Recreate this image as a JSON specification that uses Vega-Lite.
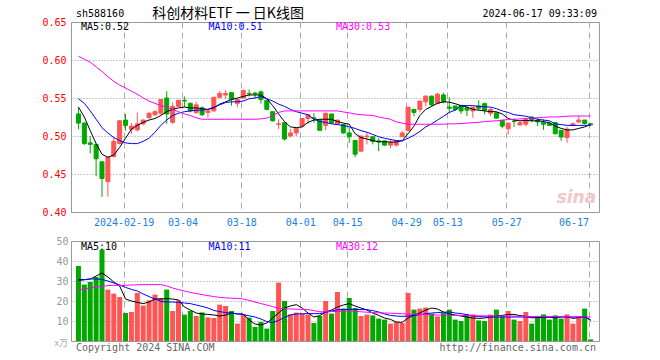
{
"$schema": "https://vega.github.io/schema/vega-lite/v6.json",
"background": "#ffffff",
"padding": {"left": 41, "top": 6, "right": 0, "bottom": 0},
"bounds": "flush",
"spacing": 29,
"config": {
  "view": {"stroke": "#999999", "strokeWidth": 1},
  "axis": {"labelFont": "DejaVu Sans Mono", "labelFontSize": 10, "ticks": false, "domain": false, "title": null, "labelOverlap": false}
},
"resolve": {"scale": {"y": "independent", "color": "independent"}},
"datasets": {"k": [
{"i":0,"d":"2024-01-30","o":0.529,"h":0.538,"l":0.509,"c":0.517,"v":37.5,"m5":0.538,"m10":0.549,"m30":0.605,"vm5":30.7,"vm10":30.2,"vm30":25.7},
{"i":1,"d":"2024-01-31","o":0.517,"h":0.518,"l":0.488,"c":0.490,"v":28.2,"m5":0.525,"m10":0.543,"m30":0.601,"vm5":30.7,"vm10":30.6,"vm30":26},
{"i":2,"d":"2024-02-01","o":0.491,"h":0.500,"l":0.477,"c":0.489,"v":29.5,"m5":0.507,"m10":0.533,"m30":0.597,"vm5":31,"vm10":31,"vm30":26.5},
{"i":3,"d":"2024-02-02","o":0.489,"h":0.490,"l":0.447,"c":0.470,"v":32,"m5":0.490,"m10":0.522,"m30":0.591,"vm5":32.5,"vm10":31,"vm30":27},
{"i":4,"d":"2024-02-05","o":0.466,"h":0.467,"l":0.420,"c":0.444,"v":45.7,"m5":0.476,"m10":0.511,"m30":0.585,"vm5":34,"vm10":30.8,"vm30":27.3},
{"i":5,"d":"2024-02-06","o":0.440,"h":0.472,"l":0.420,"c":0.472,"v":25.7,"m5":0.472,"m10":0.504,"m30":0.578,"vm5":32,"vm10":30,"vm30":27.7},
{"i":6,"d":"2024-02-07","o":0.473,"h":0.498,"l":0.472,"c":0.493,"v":23.7,"m5":0.475,"m10":0.498,"m30":0.572,"vm5":29.5,"vm10":29,"vm30":27.8},
{"i":7,"d":"2024-02-08","o":0.490,"h":0.521,"l":0.489,"c":0.520,"v":22,"m5":0.485,"m10":0.494,"m30":0.567,"vm5":27.5,"vm10":28,"vm30":27.8},
{"i":8,"d":"2024-02-19","o":0.521,"h":0.529,"l":0.507,"c":0.514,"v":14,"m5":0.497,"m10":0.491,"m30":0.563,"vm5":21,"vm10":26.8,"vm30":27.8},
{"i":9,"d":"2024-02-20","o":0.509,"h":0.517,"l":0.503,"c":0.513,"v":14.5,"m5":0.509,"m10":0.490,"m30":0.559,"vm5":20,"vm10":25.8,"vm30":28},
{"i":10,"d":"2024-02-21","o":0.508,"h":0.531,"l":0.506,"c":0.516,"v":24,"m5":0.514,"m10":0.490,"m30":0.555,"vm5":19.3,"vm10":25,"vm30":28.1},
{"i":11,"d":"2024-02-22","o":0.516,"h":0.522,"l":0.514,"c":0.521,"v":17.7,"m5":0.518,"m10":0.493,"m30":0.550,"vm5":18.7,"vm10":23.5,"vm30":28.2},
{"i":12,"d":"2024-02-23","o":0.524,"h":0.531,"l":0.523,"c":0.530,"v":20.3,"m5":0.521,"m10":0.497,"m30":0.546,"vm5":19.5,"vm10":22.2,"vm30":28.2},
{"i":13,"d":"2024-02-26","o":0.528,"h":0.534,"l":0.526,"c":0.532,"v":23.2,"m5":0.523,"m10":0.505,"m30":0.543,"vm5":21,"vm10":21,"vm30":28.2},
{"i":14,"d":"2024-02-27","o":0.530,"h":0.548,"l":0.528,"c":0.548,"v":21.5,"m5":0.527,"m10":0.514,"m30":0.540,"vm5":21,"vm10":19.8,"vm30":28.2},
{"i":15,"d":"2024-02-28","o":0.550,"h":0.559,"l":0.516,"c":0.529,"v":25.7,"m5":0.532,"m10":0.521,"m30":0.538,"vm5":21.2,"vm10":19.5,"vm30":27.5},
{"i":16,"d":"2024-02-29","o":0.518,"h":0.544,"l":0.516,"c":0.539,"v":15,"m5":0.535,"m10":0.527,"m30":0.535,"vm5":21,"vm10":19.5,"vm30":26.5},
{"i":17,"d":"2024-03-01","o":0.539,"h":0.548,"l":0.539,"c":0.547,"v":20.3,"m5":0.537,"m10":0.530,"m30":0.532,"vm5":20.5,"vm10":19.3,"vm30":25.7},
{"i":18,"d":"2024-03-04","o":0.547,"h":0.552,"l":0.538,"c":0.546,"v":13.2,"m5":0.538,"m10":0.532,"m30":0.529,"vm5":17,"vm10":19,"vm30":25},
{"i":19,"d":"2024-03-05","o":0.543,"h":0.544,"l":0.531,"c":0.533,"v":15,"m5":0.537,"m10":0.533,"m30":0.527,"vm5":15.5,"vm10":18.7,"vm30":24.3},
{"i":20,"d":"2024-03-06","o":0.531,"h":0.545,"l":0.529,"c":0.541,"v":12.5,"m5":0.537,"m10":0.534,"m30":0.524,"vm5":14,"vm10":18,"vm30":23.7},
{"i":21,"d":"2024-03-07","o":0.537,"h":0.539,"l":0.526,"c":0.528,"v":14.3,"m5":0.536,"m10":0.534,"m30":0.522,"vm5":13.5,"vm10":17.3,"vm30":23.2},
{"i":22,"d":"2024-03-08","o":0.531,"h":0.535,"l":0.524,"c":0.533,"v":11.8,"m5":0.535,"m10":0.535,"m30":0.522,"vm5":13.3,"vm10":16.5,"vm30":22.7},
{"i":23,"d":"2024-03-11","o":0.533,"h":0.551,"l":0.532,"c":0.551,"v":11.5,"m5":0.537,"m10":0.538,"m30":0.522,"vm5":13,"vm10":15.3,"vm30":22.2},
{"i":24,"d":"2024-03-12","o":0.551,"h":0.559,"l":0.549,"c":0.556,"v":18.2,"m5":0.542,"m10":0.541,"m30":0.522,"vm5":12.5,"vm10":14.7,"vm30":21.8},
{"i":25,"d":"2024-03-13","o":0.554,"h":0.560,"l":0.549,"c":0.556,"v":17.5,"m5":0.545,"m10":0.544,"m30":0.522,"vm5":13,"vm10":14.2,"vm30":21.6},
{"i":26,"d":"2024-03-14","o":0.557,"h":0.557,"l":0.540,"c":0.548,"v":15,"m5":0.548,"m10":0.545,"m30":0.522,"vm5":14,"vm10":14,"vm30":21.4},
{"i":27,"d":"2024-03-15","o":0.543,"h":0.550,"l":0.538,"c":0.548,"v":8.7,"m5":0.550,"m10":0.545,"m30":0.522,"vm5":13.5,"vm10":13.6,"vm30":21.3},
{"i":28,"d":"2024-03-18","o":0.550,"h":0.561,"l":0.550,"c":0.560,"v":13.3,"m5":0.552,"m10":0.546,"m30":0.522,"vm5":13.5,"vm10":13.2,"vm30":21},
{"i":29,"d":"2024-03-19","o":0.556,"h":0.561,"l":0.552,"c":0.5555,"v":11.7,"m5":0.554,"m10":0.549,"m30":0.522,"vm5":10.5,"vm10":12.6,"vm30":20.3},
{"i":30,"d":"2024-03-20","o":0.5565,"h":0.558,"l":0.550,"c":0.5555,"v":7,"m5":0.554,"m10":0.550,"m30":0.522,"vm5":8.5,"vm10":12,"vm30":19.5},
{"i":31,"d":"2024-03-21","o":0.558,"h":0.560,"l":0.5425,"c":0.548,"v":9.5,"m5":0.554,"m10":0.552,"m30":0.5225,"vm5":8,"vm10":11,"vm30":18.7},
{"i":32,"d":"2024-03-22","o":0.547,"h":0.547,"l":0.534,"c":0.535,"v":6.2,"m5":0.549,"m10":0.549,"m30":0.5235,"vm5":9,"vm10":9.7,"vm30":18},
{"i":33,"d":"2024-03-25","o":0.532,"h":0.532,"l":0.519,"c":0.520,"v":15,"m5":0.540,"m10":0.546,"m30":0.527,"vm5":11.5,"vm10":9.2,"vm30":17.2},
{"i":34,"d":"2024-03-26","o":0.5155,"h":0.522,"l":0.509,"c":0.516,"v":29.2,"m5":0.529,"m10":0.542,"m30":0.531,"vm5":14,"vm10":10.3,"vm30":16.3},
{"i":35,"d":"2024-03-27","o":0.5175,"h":0.5175,"l":0.494,"c":0.496,"v":20,"m5":0.519,"m10":0.539,"m30":0.533,"vm5":16.5,"vm10":11.8,"vm30":16.1},
{"i":36,"d":"2024-03-28","o":0.500,"h":0.509,"l":0.498,"c":0.504,"v":13.3,"m5":0.512,"m10":0.535,"m30":0.533,"vm5":17.5,"vm10":13,"vm30":16},
{"i":37,"d":"2024-03-29","o":0.504,"h":0.510,"l":0.500,"c":0.510,"v":14.2,"m5":0.511,"m10":0.532,"m30":0.533,"vm5":18.2,"vm10":13.5,"vm30":15.9},
{"i":38,"d":"2024-04-01","o":0.513,"h":0.523,"l":0.511,"c":0.523,"v":13.7,"m5":0.512,"m10":0.530,"m30":0.533,"vm5":16.5,"vm10":13.6,"vm30":15.8},
{"i":39,"d":"2024-04-02","o":0.523,"h":0.528,"l":0.516,"c":0.528,"v":13.2,"m5":0.518,"m10":0.528,"m30":0.533,"vm5":14,"vm10":13.7,"vm30":15.7},
{"i":40,"d":"2024-04-03","o":0.524,"h":0.530,"l":0.5175,"c":0.523,"v":9,"m5":0.521,"m10":0.522,"m30":0.533,"vm5":12,"vm10":13.7,"vm30":15.2},
{"i":41,"d":"2024-04-08","o":0.521,"h":0.521,"l":0.507,"c":0.5075,"v":12.5,"m5":0.522,"m10":0.519,"m30":0.533,"vm5":12.7,"vm10":13.7,"vm30":14.6},
{"i":42,"d":"2024-04-09","o":0.514,"h":0.530,"l":0.5075,"c":0.530,"v":20,"m5":0.522,"m10":0.518,"m30":0.533,"vm5":14.5,"vm10":14.3,"vm30":14.6},
{"i":43,"d":"2024-04-10","o":0.529,"h":0.529,"l":0.517,"c":0.517,"v":13.7,"m5":0.522,"m10":0.516,"m30":0.533,"vm5":15.5,"vm10":15,"vm30":14.7},
{"i":44,"d":"2024-04-11","o":0.516,"h":0.521,"l":0.515,"c":0.521,"v":24.5,"m5":0.519,"m10":0.515,"m30":0.533,"vm5":17,"vm10":15.6,"vm30":14.8},
{"i":45,"d":"2024-04-12","o":0.515,"h":0.515,"l":0.503,"c":0.504,"v":16.2,"m5":0.517,"m10":0.514,"m30":0.5316,"vm5":18,"vm10":15.8,"vm30":14.9},
{"i":46,"d":"2024-04-15","o":0.504,"h":0.511,"l":0.491,"c":0.499,"v":21.5,"m5":0.5155,"m10":0.512,"m30":0.5305,"vm5":18.7,"vm10":15.8,"vm30":15},
{"i":47,"d":"2024-04-16","o":0.494,"h":0.494,"l":0.472,"c":0.476,"v":16.5,"m5":0.503,"m10":0.510,"m30":0.529,"vm5":17.5,"vm10":15.8,"vm30":14.8},
{"i":48,"d":"2024-04-17","o":0.480,"h":0.500,"l":0.480,"c":0.500,"v":12.5,"m5":0.498,"m10":0.507,"m30":0.528,"vm5":16.5,"vm10":15.7,"vm30":14.6},
{"i":49,"d":"2024-04-18","o":0.499,"h":0.505,"l":0.489,"c":0.500,"v":13.2,"m5":0.496,"m10":0.505,"m30":0.5275,"vm5":15.5,"vm10":15.7,"vm30":14.4},
{"i":50,"d":"2024-04-19","o":0.499,"h":0.499,"l":0.489,"c":0.493,"v":12.8,"m5":0.494,"m10":0.502,"m30":0.527,"vm5":14,"vm10":15.2,"vm30":14.2},
{"i":51,"d":"2024-04-22","o":0.4935,"h":0.497,"l":0.480,"c":0.492,"v":11.2,"m5":0.4925,"m10":0.499,"m30":0.525,"vm5":12.8,"vm10":14.5,"vm30":14.1},
{"i":52,"d":"2024-04-23","o":0.4935,"h":0.494,"l":0.487,"c":0.488,"v":10.7,"m5":0.4925,"m10":0.497,"m30":0.5235,"vm5":11.5,"vm10":13.5,"vm30":14},
{"i":53,"d":"2024-04-24","o":0.488,"h":0.496,"l":0.484,"c":0.492,"v":8.7,"m5":0.492,"m10":0.4955,"m30":0.522,"vm5":10.8,"vm10":12.8,"vm30":13.9},
{"i":54,"d":"2024-04-25","o":0.488,"h":0.494,"l":0.486,"c":0.494,"v":9.5,"m5":0.492,"m10":0.494,"m30":0.5185,"vm5":9.5,"vm10":12.5,"vm30":13.8},
{"i":55,"d":"2024-04-26","o":0.499,"h":0.507,"l":0.499,"c":0.504,"v":9,"m5":0.494,"m10":0.4935,"m30":0.517,"vm5":9.3,"vm10":12.3,"vm30":13.6},
{"i":56,"d":"2024-04-29","o":0.507,"h":0.538,"l":0.507,"c":0.538,"v":24,"m5":0.503,"m10":0.497,"m30":0.5155,"vm5":11.5,"vm10":12.5,"vm30":13.5},
{"i":57,"d":"2024-04-30","o":0.535,"h":0.535,"l":0.526,"c":0.531,"v":15.7,"m5":0.513,"m10":0.501,"m30":0.5155,"vm5":13,"vm10":12.7,"vm30":13.4},
{"i":58,"d":"2024-05-06","o":0.535,"h":0.546,"l":0.531,"c":0.546,"v":16.2,"m5":0.527,"m10":0.506,"m30":0.5155,"vm5":14,"vm10":13.2,"vm30":13.3},
{"i":59,"d":"2024-05-07","o":0.545,"h":0.553,"l":0.539,"c":0.5525,"v":16.7,"m5":0.535,"m10":0.512,"m30":0.5155,"vm5":15.5,"vm10":13.6,"vm30":13.2},
{"i":60,"d":"2024-05-08","o":0.5525,"h":0.553,"l":0.539,"c":0.541,"v":13.7,"m5":0.539,"m10":0.516,"m30":0.5155,"vm5":16.5,"vm10":14,"vm30":13.1},
{"i":61,"d":"2024-05-09","o":0.543,"h":0.557,"l":0.542,"c":0.555,"v":12.3,"m5":0.543,"m10":0.521,"m30":0.5155,"vm5":16,"vm10":14.2,"vm30":13},
{"i":62,"d":"2024-05-10","o":0.554,"h":0.557,"l":0.543,"c":0.545,"v":14,"m5":0.545,"m10":0.526,"m30":0.5155,"vm5":14.5,"vm10":14.4,"vm30":12.9},
{"i":63,"d":"2024-05-13","o":0.538,"h":0.551,"l":0.530,"c":0.5365,"v":15.7,"m5":0.5445,"m10":0.531,"m30":0.516,"vm5":13.5,"vm10":14.5,"vm30":12.9},
{"i":64,"d":"2024-05-14","o":0.5395,"h":0.540,"l":0.533,"c":0.535,"v":10.7,"m5":0.5425,"m10":0.534,"m30":0.516,"vm5":13,"vm10":14,"vm30":12.8},
{"i":65,"d":"2024-05-15","o":0.540,"h":0.541,"l":0.529,"c":0.533,"v":10,"m5":0.540,"m10":0.540,"m30":0.5165,"vm5":12.5,"vm10":13.7,"vm30":12.8},
{"i":66,"d":"2024-05-16","o":0.537,"h":0.539,"l":0.526,"c":0.534,"v":13.3,"m5":0.538,"m10":0.540,"m30":0.517,"vm5":12,"vm10":13.2,"vm30":12.7},
{"i":67,"d":"2024-05-17","o":0.533,"h":0.538,"l":0.524,"c":0.538,"v":13.3,"m5":0.535,"m10":0.540,"m30":0.5175,"vm5":11.5,"vm10":12.5,"vm30":12.7},
{"i":68,"d":"2024-05-20","o":0.5395,"h":0.547,"l":0.534,"c":0.5365,"v":10.3,"m5":0.534,"m10":0.539,"m30":0.518,"vm5":11.3,"vm10":12.2,"vm30":12.6},
{"i":69,"d":"2024-05-21","o":0.5425,"h":0.544,"l":0.5285,"c":0.534,"v":10,"m5":0.533,"m10":0.5385,"m30":0.519,"vm5":11.5,"vm10":12.1,"vm30":12.6},
{"i":70,"d":"2024-05-22","o":0.530,"h":0.537,"l":0.526,"c":0.535,"v":13.2,"m5":0.532,"m10":0.538,"m30":0.5195,"vm5":12,"vm10":12,"vm30":12.5},
{"i":71,"d":"2024-05-23","o":0.5305,"h":0.531,"l":0.523,"c":0.5235,"v":15.7,"m5":0.532,"m10":0.536,"m30":0.520,"vm5":12.5,"vm10":12,"vm30":12.5},
{"i":72,"d":"2024-05-24","o":0.5205,"h":0.521,"l":0.510,"c":0.513,"v":12.5,"m5":0.529,"m10":0.533,"m30":0.521,"vm5":12.8,"vm10":12,"vm30":12.5},
{"i":73,"d":"2024-05-27","o":0.5095,"h":0.5175,"l":0.502,"c":0.517,"v":15,"m5":0.523,"m10":0.531,"m30":0.5215,"vm5":13.3,"vm10":12,"vm30":12.4},
{"i":74,"d":"2024-05-28","o":0.5195,"h":0.523,"l":0.512,"c":0.519,"v":10.7,"m5":0.521,"m10":0.528,"m30":0.522,"vm5":13.3,"vm10":12,"vm30":12.4},
{"i":75,"d":"2024-05-29","o":0.5145,"h":0.5195,"l":0.514,"c":0.5175,"v":10,"m5":0.520,"m10":0.527,"m30":0.5225,"vm5":12.7,"vm10":12,"vm30":12.3},
{"i":76,"d":"2024-05-30","o":0.5155,"h":0.524,"l":0.513,"c":0.522,"v":14.5,"m5":0.5205,"m10":0.526,"m30":0.523,"vm5":12.3,"vm10":12,"vm30":12.3},
{"i":77,"d":"2024-05-31","o":0.525,"h":0.526,"l":0.518,"c":0.521,"v":8.7,"m5":0.520,"m10":0.524,"m30":0.5235,"vm5":11.6,"vm10":12,"vm30":12.3},
{"i":78,"d":"2024-06-03","o":0.5205,"h":0.524,"l":0.513,"c":0.5185,"v":12.3,"m5":0.520,"m10":0.522,"m30":0.524,"vm5":11.7,"vm10":12,"vm30":12.3},
{"i":79,"d":"2024-06-04","o":0.5175,"h":0.522,"l":0.508,"c":0.5155,"v":13.3,"m5":0.519,"m10":0.521,"m30":0.5245,"vm5":11.8,"vm10":12,"vm30":12.2},
{"i":80,"d":"2024-06-05","o":0.5165,"h":0.519,"l":0.5135,"c":0.514,"v":10.7,"m5":0.5175,"m10":0.520,"m30":0.525,"vm5":11.9,"vm10":12,"vm30":12.2},
{"i":81,"d":"2024-06-06","o":0.5175,"h":0.518,"l":0.502,"c":0.503,"v":12.8,"m5":0.513,"m10":0.516,"m30":0.525,"vm5":11.6,"vm10":12,"vm30":12.2},
{"i":82,"d":"2024-06-07","o":0.5075,"h":0.5075,"l":0.4935,"c":0.4987,"v":11.2,"m5":0.510,"m10":0.515,"m30":0.5255,"vm5":12.1,"vm10":12,"vm30":12.2},
{"i":83,"d":"2024-06-11","o":0.498,"h":0.512,"l":0.491,"c":0.509,"v":13.3,"m5":0.508,"m10":0.514,"m30":0.526,"vm5":12.1,"vm10":12,"vm30":12.1},
{"i":84,"d":"2024-06-12","o":0.514,"h":0.518,"l":0.513,"c":0.516,"v":8.7,"m5":0.508,"m10":0.514,"m30":0.5263,"vm5":11.3,"vm10":12,"vm30":12.1},
{"i":85,"d":"2024-06-13","o":0.5185,"h":0.5265,"l":0.517,"c":0.521,"v":12.3,"m5":0.510,"m10":0.514,"m30":0.5263,"vm5":11.7,"vm10":12,"vm30":12.1},
{"i":86,"d":"2024-06-14","o":0.521,"h":0.521,"l":0.515,"c":0.5165,"v":16.2,"m5":0.512,"m10":0.514,"m30":0.5263,"vm5":12.3,"vm10":12,"vm30":12.1},
{"i":87,"d":"2024-06-17","o":0.516,"h":0.517,"l":0.514,"c":0.5145,"v":0.8,"m5":0.515,"m10":0.514,"m30":0.5263,"vm5":10.2,"vm10":10.7,"vm30":12}
]},
"vconcat": [
{
  "width": 528,
  "height": 190,
  "layer": [
    {
      "data": {"name": "k"},
      "mark": {"type": "rule", "strokeWidth": 1},
      "encoding": {
        "x": {"field": "i", "type": "quantitative", "title": null,
          "scale": {"domain": [-0.4167, 87.5833], "nice": false, "zero": false},
          "axis": {
            "values": [7.6667, 17.6667, 27.6667, 37.6667, 45.6667, 55.6667, 62.6667, 72.6667, 86.6667],
            "tickCount": 40,
            "labelExpr": "['2024-02-19','03-04','03-18','04-01','04-15','04-29','05-13','05-27','06-17'][indexof([8,18,28,38,46,56,63,73,87], round(datum.value))]",
            "labelAlign": {"condition": {"test": "datum.value > 80", "value": "right"}, "value": "center"},
            "labelColor": "#1a7fe0", "labelPadding": 5, "labelFlush": false, "labelOverlap": false,
            "grid": true, "gridColor": "#aaaaaa", "gridDash": [6, 4]
          }
        },
        "y": {"field": "l", "type": "quantitative", "title": null,
          "scale": {"domain": [0.4, 0.65], "nice": false, "zero": false},
          "axis": {"values": [0.4, 0.45, 0.5, 0.55, 0.6, 0.65], "tickCount": 20, "format": ".2f", "labelColor": "#ff0000",
            "labelPadding": 5, "labelOverlap": false, "grid": true, "gridColor": "#999999", "gridDash": [1, 2]}
        },
        "y2": {"field": "h"},
        "color": {"condition": {"test": "datum.c >= datum.o", "value": "#ff5555"}, "value": "#00a800"}
      }
    },
    {
      "data": {"name": "k"},
      "mark": {"type": "bar", "size": 4, "strokeWidth": 1},
      "encoding": {
        "x": {"field": "i", "type": "quantitative", "title": null},
        "y": {"field": "o", "type": "quantitative", "title": null},
        "y2": {"field": "c"},
        "fill": {"condition": {"test": "datum.c >= datum.o", "value": "#ff5555"}, "value": "#00a800"},
        "stroke": {"condition": {"test": "datum.c >= datum.o", "value": "#ff5555"}, "value": "#00a800"}
      }
    },
    {
      "data": {"name": "k"},
      "transform": [{"fold": ["m5", "m10", "m30"], "as": ["s", "val"]}],
      "mark": {"type": "line", "strokeWidth": 1},
      "encoding": {
        "x": {"field": "i", "type": "quantitative", "title": null},
        "y": {"field": "val", "type": "quantitative", "title": null},
        "color": {"field": "s", "type": "nominal", "scale": {"domain": ["m5", "m10", "m30"], "range": ["#000000", "#0000ff", "#ff00ff"]}, "legend": null}
      }
    },
    {
      "data": {"values": [{}]},
      "mark": {"type": "text", "align": "left", "baseline": "middle", "font": "DejaVu Sans Mono", "fontSize": 10, "color": "#000000"},
      "encoding": {"x": {"datum": 0.417, "type": "quantitative"}, "y": {"datum": 0.6434, "type": "quantitative"}, "text": {"value": "MA5:0.52"}}
    },
    {
      "data": {"values": [{}]},
      "mark": {"type": "text", "align": "left", "baseline": "middle", "font": "DejaVu Sans Mono", "fontSize": 10, "color": "#0000ff"},
      "encoding": {"x": {"datum": 22.08, "type": "quantitative"}, "y": {"datum": 0.6434, "type": "quantitative"}, "text": {"value": "MA10:0.51"}}
    },
    {
      "data": {"values": [{}]},
      "mark": {"type": "text", "align": "left", "baseline": "middle", "font": "DejaVu Sans Mono", "fontSize": 10, "color": "#ff00ff"},
      "encoding": {"x": {"datum": 43.75, "type": "quantitative"}, "y": {"datum": 0.6434, "type": "quantitative"}, "text": {"value": "MA30:0.53"}}
    },
    {
      "data": {"values": [{}]},
      "mark": {"type": "text", "align": "left", "baseline": "middle", "font": "DejaVu Sans Mono", "fontSize": 10, "color": "#000000"},
      "encoding": {"x": {"datum": -0.4167, "type": "quantitative"}, "y": {"datum": 0.6605, "type": "quantitative"}, "text": {"value": "sh588160"}}
    },
    {
      "data": {"values": [{}]},
      "mark": {"type": "text", "align": "center", "baseline": "middle", "font": "Noto Sans CJK SC", "fontSize": 14, "color": "#000000"},
      "encoding": {"x": {"datum": 25.42, "type": "quantitative"}, "y": {"datum": 0.6605, "type": "quantitative"}, "text": {"value": "科创材料ETF 一 日K线图"}}
    },
    {
      "data": {"values": [{}]},
      "mark": {"type": "text", "align": "right", "baseline": "middle", "font": "DejaVu Sans Mono", "fontSize": 10, "color": "#000000"},
      "encoding": {"x": {"datum": 88.08, "type": "quantitative"}, "y": {"datum": 0.6605, "type": "quantitative"}, "text": {"value": "2024-06-17 09:33:09"}}
    },
    {
      "data": {"values": [{}]},
      "mark": {"type": "text", "align": "center", "baseline": "middle", "font": "DejaVu Sans", "fontSize": 17, "fontWeight": "bold", "fontStyle": "italic", "color": "#f0c8c8"},
      "encoding": {"x": {"datum": 84.6, "type": "quantitative"}, "y": {"datum": 0.418, "type": "quantitative"}, "text": {"value": "sina"}}
    }
  ]
},
{
  "width": 528,
  "height": 100,
  "layer": [
    {
      "data": {"name": "k"},
      "mark": {"type": "bar", "size": 5},
      "encoding": {
        "x": {"field": "i", "type": "quantitative", "title": null,
          "scale": {"domain": [-0.4167, 87.5833], "nice": false, "zero": false},
          "axis": {"values": [7.6667, 17.6667, 27.6667, 37.6667, 45.6667, 55.6667, 62.6667, 72.6667, 86.6667],
            "tickCount": 40, "labels": false, "grid": true, "gridColor": "#aaaaaa", "gridDash": [6, 4]}
        },
        "y": {"field": "v", "type": "quantitative", "title": null,
          "scale": {"domain": [0, 50], "nice": false},
          "axis": {"values": [10, 20, 30, 40, 50], "tickCount": 20, "labelColor": "#999999", "labelPadding": 3, "labelOverlap": false,
            "grid": true, "gridColor": "#999999", "gridDash": [1, 2]}
        },
        "color": {"condition": {"test": "datum.c >= datum.o", "value": "#ff5555"}, "value": "#00a800"}
      }
    },
    {
      "data": {"name": "k"},
      "transform": [{"fold": ["vm5", "vm10", "vm30"], "as": ["s", "val"]}],
      "mark": {"type": "line", "strokeWidth": 1},
      "encoding": {
        "x": {"field": "i", "type": "quantitative", "title": null},
        "y": {"field": "val", "type": "quantitative", "title": null},
        "color": {"field": "s", "type": "nominal", "scale": {"domain": ["vm5", "vm10", "vm30"], "range": ["#000000", "#0000ff", "#ff00ff"]}, "legend": null}
      }
    },
    {
      "data": {"values": [{}]},
      "mark": {"type": "text", "align": "left", "baseline": "middle", "font": "DejaVu Sans Mono", "fontSize": 10, "color": "#000000"},
      "encoding": {"x": {"datum": 0.417, "type": "quantitative"}, "y": {"datum": 47, "type": "quantitative"}, "text": {"value": "MA5:10"}}
    },
    {
      "data": {"values": [{}]},
      "mark": {"type": "text", "align": "left", "baseline": "middle", "font": "DejaVu Sans Mono", "fontSize": 10, "color": "#0000ff"},
      "encoding": {"x": {"datum": 22.08, "type": "quantitative"}, "y": {"datum": 47, "type": "quantitative"}, "text": {"value": "MA10:11"}}
    },
    {
      "data": {"values": [{}]},
      "mark": {"type": "text", "align": "left", "baseline": "middle", "font": "DejaVu Sans Mono", "fontSize": 10, "color": "#ff00ff"},
      "encoding": {"x": {"datum": 43.75, "type": "quantitative"}, "y": {"datum": 47, "type": "quantitative"}, "text": {"value": "MA30:12"}}
    },
    {
      "data": {"values": [{}]},
      "mark": {"type": "text", "align": "left", "baseline": "middle", "font": "Noto Sans CJK SC", "fontSize": 9, "color": "#aaaaaa"},
      "encoding": {"x": {"datum": -4.08, "type": "quantitative"}, "y": {"datum": -1, "type": "quantitative"}, "text": {"value": "x万"}}
    },
    {
      "data": {"values": [{}]},
      "mark": {"type": "text", "align": "left", "baseline": "middle", "font": "DejaVu Sans Mono", "fontSize": 10, "color": "#666666"},
      "encoding": {"x": {"datum": -0.4167, "type": "quantitative"}, "y": {"datum": -3.5, "type": "quantitative"}, "text": {"value": "Copyright 2024 SINA.COM"}}
    },
    {
      "data": {"values": [{}]},
      "mark": {"type": "text", "align": "right", "baseline": "middle", "font": "DejaVu Sans Mono", "fontSize": 10, "color": "#666666"},
      "encoding": {"x": {"datum": 87.92, "type": "quantitative"}, "y": {"datum": -3.5, "type": "quantitative"}, "text": {"value": "http://finance.sina.com.cn"}}
    }
  ]
}
]
}
